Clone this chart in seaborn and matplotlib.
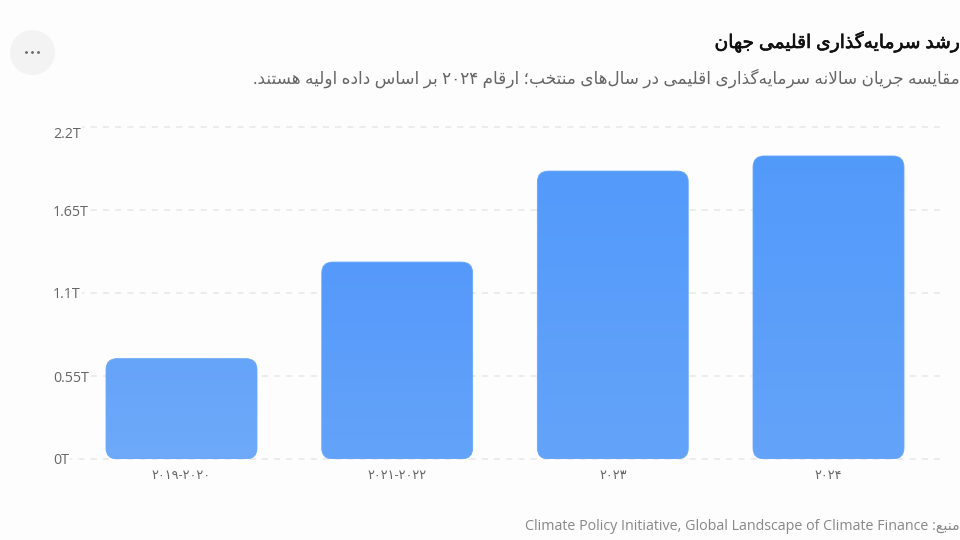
import re
import unicodedata
import numpy as np
import seaborn as sns
import matplotlib
matplotlib.use("Agg")
import matplotlib.pyplot as plt
import matplotlib.patheffects as pe
from matplotlib.colors import to_rgb
from matplotlib.patches import Circle, FancyBboxPatch
from matplotlib.transforms import IdentityTransform

# values (trillion USD)
periods = ["۲۰۱۹-۲۰۲۰", "۲۰۲۱-۲۰۲۲", "۲۰۲۳", "۲۰۲۴"]
flows = [0.665, 1.305, 1.908, 2.008]
y_ticks = [0, 0.55, 1.1, 1.65, 2.2]
y_labels = ["0T", "0.55T", "1.1T", "1.65T", "2.2T"]

title = "رشد سرمایه‌گذاری اقلیمی جهان"
subtitle = "مقایسه جریان سالانه سرمایه‌گذاری اقلیمی در سال‌های منتخب؛ ارقام ۲۰۲۴ بر اساس داده اولیه هستند."
source_label = "منبع:"
source_name = "Climate Policy Initiative, Global Landscape of Climate Finance"

bar_tops = ["#66a4f9", "#5599fb", "#539afb", "#529afb"]
bar_bottoms = ["#6ea9fa", "#64a3f9", "#64a3f9", "#64a3f9"]
BG = "#fdfdfd"
W, H = 960, 540


# matplotlib has no Arabic shaping, so pick presentation forms by hand
forms = {}
for code in list(range(0xFB50, 0xFE00)) + list(range(0xFE70, 0xFEFD)):
    parts = unicodedata.decomposition(chr(code)).split()
    if len(parts) > 1 and parts[0] in ("<isolated>", "<final>", "<initial>", "<medial>"):
        base = "".join(chr(int(p, 16)) for p in parts[1:])
        forms.setdefault(base, {}).setdefault(parts[0], chr(code))


def rtl(text):
    tokens = re.findall("لا|.", text)
    out = []
    for i, tok in enumerate(tokens):
        prev = tokens[i - 1] if i else ""
        nxt = tokens[i + 1] if i + 1 < len(tokens) else ""
        f = forms.get(tok)
        if f is None or tok == "\u200c":
            out.append("" if tok == "\u200c" else tok)
            continue
        after = "<initial>" in forms.get(prev, {}) and "<final>" in f
        before = "<initial>" in f and "<final>" in forms.get(nxt, {})
        key = {(0, 0): "<isolated>", (1, 0): "<final>", (0, 1): "<initial>", (1, 1): "<medial>"}[(after, before)]
        out.append(f.get(key, f["<isolated>"]))
    visual = "".join(out)[::-1]
    # digits keep their left to right order
    return re.sub("[۰-۹]+", lambda m: m.group()[::-1], visual)


sns.set_theme(style="white")
plt.rcParams["font.family"] = ["Open Sans", "DejaVu Sans"]

fig = plt.figure(figsize=(W / 100, H / 100), dpi=100, facecolor=BG)
# pixel box of the plot: gridlines run 54..940, baseline 459, top tick 127
ax = fig.add_axes([54 / W, 1 - 459 / H, (940 - 54) / W, (459 - 127) / H], facecolor=BG)

sns.barplot(x=periods, y=flows, color=bar_tops[0], width=0.7, ax=ax)

step = 215.67
ax.set_xlim((54 - 181.5) / step, (940 - 181.5) / step)
ax.set_ylim(0, 2.2)
ax.set_xlabel("")
ax.set_ylabel("")
sns.despine(ax=ax, left=True, bottom=True)
ax.set_axisbelow(True)
ax.grid(axis="y", color="#e8e8e8", linewidth=1.1, linestyle=(0, (4, 4)), clip_on=False)
ax.grid(axis="x", visible=False)

ax.set_yticks(y_ticks, y_labels)
ax.tick_params(axis="y", length=0, pad=0.7, labelsize=10.3, labelcolor="#666666")
ax.tick_params(axis="x", length=0, pad=7.5, labelsize=9.3, labelcolor="#666666")
for lab in ax.get_yticklabels():
    lab.set_ha("left")
    lab.set_bbox(dict(facecolor=BG, edgecolor="none", pad=1))
# the top label sits a little under its gridline
ax.get_yticklabels()[-1].set_va("top")

fig.canvas.draw()
for bar, c_top, c_bottom in zip(list(ax.patches), bar_tops, bar_bottoms):
    x0, x1 = bar.get_x(), bar.get_x() + bar.get_width()
    h = bar.get_height()
    (px0, py0), (px1, py1) = ax.transData.transform([(x0, 0), (x1, h)])
    box = FancyBboxPatch((px0, py0), px1 - px0, py1 - py0, boxstyle="round,pad=0,rounding_size=11",
                         transform=IdentityTransform(), facecolor="none",
                         edgecolor="#69a8fa", linewidth=0.6, zorder=4)
    ax.add_patch(box)
    grad = np.linspace(to_rgb(c_top), to_rgb(c_bottom), 64)[:, None, :]
    im = ax.imshow(grad, extent=(x0, x1, 0, h), aspect="auto", zorder=3, interpolation="bilinear")
    im.set_clip_path(box)
    bar.set_visible(False)
ax.set_xlim((54 - 181.5) / step, (940 - 181.5) / step)
ax.set_ylim(0, 2.2)

# header, source and the menu button are placed in figure pixels
fig.text(960 / W, 1 - 42 / H, rtl(title), ha="right", va="center", fontsize=13.45, color="#111111",
         path_effects=[pe.withStroke(linewidth=0.45, foreground="#111111")])
fig.text(960 / W, 1 - 78 / H, rtl(subtitle), ha="right", va="center", fontsize=12.2, color="#666666")
fig.text(960 / W, 1 - 526 / H, source_name + " " + rtl(source_label), ha="right", va="center",
         fontsize=10.3, color="#888888")

fig.add_artist(Circle((32.5, H - 52.5), 22.5, transform=IdentityTransform(), facecolor="#f3f3f3",
                      edgecolor="none"))
for dot_x in (26.5, 32.5, 38.5):
    fig.add_artist(Circle((dot_x, H - 52.5), 1.4, transform=IdentityTransform(), facecolor="#666666",
                          edgecolor="none"))

fig.savefig("out.png", dpi=100, facecolor=BG)
